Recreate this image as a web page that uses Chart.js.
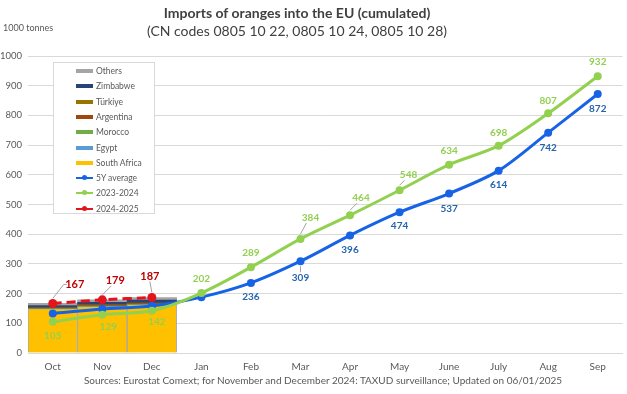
<!DOCTYPE html>
<html><head><meta charset="utf-8">
<script src="https://cdn.jsdelivr.net/npm/chart.js@4/dist/chart.umd.min.js"></script>
<style>
html,body{margin:0;padding:0;background:#fff;font-family:Lato,sans-serif;}
#wrap{position:relative;width:627px;height:394px;}
#c{position:absolute;left:0;top:0;}
.t{position:absolute;white-space:nowrap;color:#404040;}
#title{left:0;width:594px;text-align:center;top:4px;font-size:14px;font-weight:bold;}
#sub{left:0;width:594px;text-align:center;top:22px;font-size:14px;}
#unit{left:3px;top:22px;font-size:9px;color:#595959;}
#foot{left:0;width:646px;text-align:center;top:374px;font-size:10px;color:#595959;}
#legend{position:absolute;left:53px;top:62px;width:102px;height:152px;background:#fff;border:1px solid #d9d9d9;box-sizing:border-box;}
.li{position:absolute;left:22px;font-size:8.5px;color:#595959;height:12px;line-height:12px;}
.sw{position:absolute;left:0;width:17px;}
.li span{position:absolute;left:20px;top:0;white-space:nowrap;}
</style></head>
<body><div id="wrap">
<canvas id="c" width="627" height="394"></canvas>
<div class="t" id="title">Imports of oranges into the EU (cumulated)</div>
<div class="t" id="sub">(CN codes 0805 10 22, 0805 10 24, 0805 10 28)</div>
<div class="t" id="unit">1000 tonnes</div>
<div class="t" id="foot">Sources: Eurostat Comext; for November and December 2024: TAXUD surveillance; Updated on 06/01/2025</div>
<div id="legend"></div>
</div>
<script>
const months = ['Oct','Nov','Dec','Jan','Feb','Mar','Apr','May','June','July','Aug','Sep'];
const southAfrica = [147,155,161];
const egypt       = [1,1,1];
const morocco     = [1,1,1];
const argentina   = [2,3,3];
const turkiye     = [1,2,2];
const zimbabwe    = [8,9,10];
const others      = [7,8,9];
const avg5y   = [133,148,158,188,236,309,396,474,537,614,742,872];
const s2023   = [105,129,142,202,289,384,464,548,634,698,807,932];
const s2024   = [167,179,187];
const yTicks  = [0,100,200,300,400,500,600,700,800,900,1000];

// label offsets [dx, dy, leader]
const offGreen = [[0,14],[6,12],[5,11],[0,-14],[0,-14],[10,-21,1],[11,-17,1],[9,-15,1],[0,-14],[0,-13],[0,-13],[0,-14]];
const offBlue  = [null,null,null,null,[0,14],[0,17,1],[0,14],[0,14],[0,15],[0,14],[0,15],[0,15]];
const offRed   = [[22,-19,1],[13,-19,1],[-2,-21,1]];

const barDefs = [
 ['South Africa', southAfrica, '#FFC000'],
 ['Egypt', egypt, '#5B9BD5'],
 ['Morocco', morocco, '#70AD47'],
 ['Argentina', argentina, '#9E480E'],
 ['Türkiye', turkiye, '#997300'],
 ['Zimbabwe', zimbabwe, '#264478'],
 ['Others', others, '#A5A5A5']
];
const datasets = barDefs.map(([l,d,c]) => ({
  type:'bar', label:l, data:d, backgroundColor:c, borderColor:'#A6A6A6',
  borderWidth: l==='South Africa'?{left:1,right:1,top:0,bottom:0}:0,
  stack:'bars', order:2, categoryPercentage:1, barPercentage:1
}));
const pt = {pointRadius:4, pointBorderWidth:0, pointHoverRadius:4};
datasets.push({type:'line',label:'5Y  average',data:avg5y,borderColor:'#1763E6',backgroundColor:'#1763E6',borderWidth:3,...pt,tension:0.3,stack:'a',order:1,
  labelOffsets:offBlue,labelColor:'#2565AE'});
datasets.push({type:'line',label:'2023-2024',data:s2023,borderColor:'#92D050',backgroundColor:'#92D050',borderWidth:3,...pt,tension:0.3,stack:'b',order:0,
  labelOffsets:offGreen,labelColor:'#92D050'});
datasets.push({type:'line',label:'2024-2025',data:s2024,borderColor:'#E3141B',backgroundColor:'#E3141B',borderWidth:3,borderDash:[9,5],...pt,pointRadius:4.5,tension:0.2,stack:'c',order:0,
  labelOffsets:offRed,labelColor:'#C00000',labelSize:11});

const labelPlugin = {
  id:'pointLabels',
  afterDatasetsDraw(chart){
    const ctx = chart.ctx;
    ctx.save();
    chart.data.datasets.forEach((ds,i)=>{
      if(!ds.labelOffsets) return;
      const meta = chart.getDatasetMeta(i);
      meta.data.forEach((p,j)=>{
        const off = ds.labelOffsets[j];
        if(!off || ds.data[j]==null) return;
        const x = p.x+off[0], y = p.y+off[1];
        if(off[2]){
          ctx.strokeStyle='#8c8c8c'; ctx.lineWidth=0.8; ctx.setLineDash([]);
          ctx.beginPath();
          const ey = off[1]<0 ? y+5 : y-6;
          let ex = x;
          if(Math.abs(off[0])>15){ ex = x-11; ctx.moveTo(ex+3,y); ctx.lineTo(ex,y); }
          ctx.moveTo(off[0]>15?ex:ex-(off[0]>0?4:0), off[0]>15?y:ey);
          ctx.lineTo(p.x, p.y+(off[1]<0?-5:5));
          ctx.stroke();
        }
        ctx.fillStyle = ds.labelColor;
        ctx.font = 'bold '+(ds.labelSize||10)+'px Lato';
        ctx.textAlign='center'; ctx.textBaseline='middle';
        ctx.fillText(String(ds.data[j]), x, y);
      });
    });
    ctx.restore();
  }
};

new Chart(document.getElementById('c'), {
  data:{labels:months, datasets},
  options:{
    responsive:false, animation:false,
    layout:{padding:{top:56,right:4,bottom:19,left:0}},
    plugins:{legend:{display:false},tooltip:{enabled:false},title:{display:false}},
    scales:{
      x:{stacked:true, grid:{display:false}, border:{color:'#D9D9D9'},
         ticks:{color:'#595959',font:{family:'Lato',size:10},padding:0},
         afterFit(s){s.height=22;}},
      y:{stacked:true, min:0, max:1000, afterBuildTicks(s){s.ticks=yTicks.map(v=>({value:v}));},
         grid:{color:'#D9D9D9', drawTicks:false}, border:{display:false},
         ticks:{color:'#595959',font:{family:'Lato',size:9.5},padding:6,callback:v=>String(v)},
         afterFit(s){s.width=28;}}
    }
  },
  plugins:[labelPlugin]
});

// HTML legend (reverse of bar order then lines)
const leg = document.getElementById('legend');
const items = barDefs.slice().reverse().map(([l,,c])=>({l,c,bar:true}))
  .concat([{l:'5Y  average',c:'#1763E6'},{l:'2023-2024',c:'#92D050'},{l:'2024-2025',c:'#E3141B'}]);
items.forEach((it,k)=>{
  const d=document.createElement('div'); d.className='li'; d.style.top=(2+k*15.3)+'px';
  const sw=document.createElement('div'); sw.className='sw';
  if(it.bar){ sw.style.top='4px'; sw.style.height='4px'; sw.style.background=it.c; }
  else { sw.style.top='5px'; sw.style.height='2px'; sw.style.background=it.c;
    const dot=document.createElement('div'); dot.style.cssText='position:absolute;left:6px;top:-2px;width:5px;height:5px;border-radius:50%;background:'+it.c; sw.appendChild(dot); }
  const s=document.createElement('span'); s.textContent=it.l;
  d.appendChild(sw); d.appendChild(s); leg.appendChild(d);
});
</script>
</body></html>
